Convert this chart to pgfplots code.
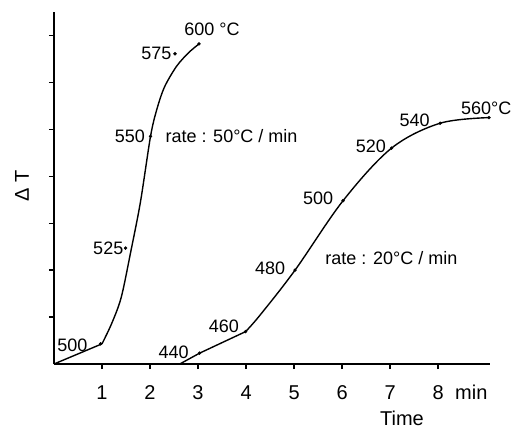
\documentclass[border=0pt]{standalone}
\usepackage{fontspec}
\setmainfont{Liberation Sans}
\usepackage{pgfplots}
\pgfplotsset{compat=1.18}

\begin{document}
\begin{tikzpicture}
  % picture frame: 513 x 428 bp, axis origin at (54,364) px from top left
  \path[use as bounding box] (-54bp,-64bp) rectangle (459bp,364bp);
  \begin{axis}[
      at={(0,0)}, anchor=south west,
      scale only axis,
      width=436bp, height=352bp,
      xmin=0, xmax=9.08,
      ymin=0, ymax=7.5,
      axis lines=left,
      axis line style={-, line width=1.6pt},
      tick align=outside,
      major tick length=5bp,
      tick style={line width=1.3pt, black},
      xtick={1,2,...,8},
      ytick={1,2,...,7},
      yticklabels={},
      /pgf/number format/assume math mode=true,
      xticklabel style={font=\fontsize{20bp}{22bp}\selectfont, yshift=-13bp},
      xlabel={Time},
      xlabel style={at={(axis description cs:0.798,0)}, anchor=center,
                    yshift=-54bp, font=\fontsize{20bp}{22bp}\selectfont},
      ylabel={Δ T},
      ylabel style={at={(axis description cs:0,0.506)}, anchor=center,
                    yshift=32bp, font=\fontsize{20bp}{22bp}\selectfont},
      clip=false,
      nodes={font=\fontsize{18bp}{20bp}\selectfont},
    ]
    % rate 50 C/min
    \addplot[black, line width=1.4pt] coordinates {(0,0) (1,0.43)};
    \addplot[black, line width=1.4pt, smooth, tension=0.5] coordinates {
      (1,0.43) (1.2,0.86) (1.4,1.42) (1.6,2.4) (1.8,3.45)
      (2.01,4.85) (2.14,5.42) (2.3,5.9) (2.55,6.34)
      (2.8,6.63) (3.02,6.82)};
    \addplot[only marks, mark=*, mark size=1.5bp, black] coordinates {
      (0.97,0.43) (1.49,2.47) (2.01,4.85) (2.52,6.61) (3.02,6.82)};

    % rate 20 C/min
    \addplot[black, line width=1.4pt] coordinates {(2.62,0) (3.03,0.23) (3.99,0.69)};
    \addplot[black, line width=1.4pt, smooth, tension=0.55] coordinates {
      (3.99,0.69) (4.29,1.04) (5.02,2.0) (6.02,3.48) (7.03,4.6)
      (8.04,5.13) (9.06,5.25)};
    \addplot[only marks, mark=*, mark size=1.5bp, black] coordinates {
      (3.03,0.23) (3.99,0.69) (5.02,2.0) (6.02,3.48) (7.03,4.6)
      (8.04,5.13) (9.06,5.25)};

    % point labels
    \node at (axis cs:0.385,0.405) {500};
    \node at (axis cs:1.13,2.47) {525};
    \node at (axis cs:1.58,4.86) {550};
    \node at (axis cs:2.13,6.61) {575};
    \node at (axis cs:3.29,7.14) {600 °C};
    \node[anchor=west] at (axis cs:2.25,4.86) {rate : 50°C / min};
    \node at (axis cs:2.49,0.256) {440};
    \node at (axis cs:3.54,0.81) {460};
    \node at (axis cs:4.50,2.03) {480};
    \node at (axis cs:5.50,3.54) {500};
    \node at (axis cs:6.60,4.63) {520};
    \node at (axis cs:7.51,5.20) {540};
    \node[anchor=east, inner xsep=0pt] at (axis cs:9.53,5.44) {560°C};
    \node[anchor=west] at (axis cs:5.58,2.26) {rate : 20°C / min};
    \node[anchor=base, font=\fontsize{20bp}{22bp}\selectfont]
      at (axis cs:8.69,0) [yshift=-35bp] {min};
  \end{axis}
\end{tikzpicture}
\end{document}
